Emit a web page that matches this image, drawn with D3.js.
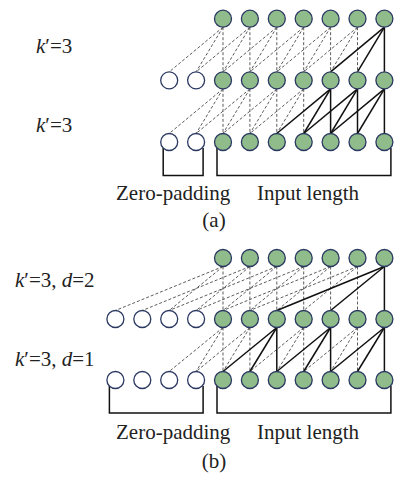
<!DOCTYPE html>
<html>
<head>
<meta charset="utf-8">
<script src="https://cdn.jsdelivr.net/npm/d3@7/dist/d3.min.js"></script>
<style>
  html, body { margin: 0; padding: 0; background: #fff; }
  svg { display: block; }
  text { font-family: "Liberation Serif", "Times New Roman", serif; fill: #222; }
</style>
</head>
<body>
<svg id="chart" width="394" height="482"></svg>
<script>
// ---- diagram data ----
const inputIdx = [0, 1, 2, 3, 4, 5, 6];          // input / hidden / output node positions
const paddingA = [-2, -1];                        // zero-padding nodes, panel (a)
const paddingB = [-4, -3, -2, -1];                // zero-padding nodes, panel (b)
const kernelSize = 3;                             // k' = 3
const dilationsA = [1, 1];                        // bottom->middle, middle->top
const dilationsB = [1, 2];
const layerLabelsA = ["k′=3", "k′=3"];            // top label, bottom label
const layerLabelsB = ["k′=3, d=2", "k′=3, d=1"];
const bottomLabels = ["Zero-padding", "Input length"];
const captions = ["(a)", "(b)"];

// ---- layout ----
const svg = d3.select("#chart");
const x = d3.scaleLinear().domain([0, 6]).range([223, 384.4]);
const r = 8.5;
const fillGreen = "#8fbc8a";
const strokeNavy = "#2b3962";

const panels = [
  { y: d3.scaleLinear().domain([0, 2]).range([142, 18.7]), pad: paddingA, dil: dilationsA,
    labels: layerLabelsA, labelX: 36, labelY: [53, 132], bracketY: 175.5, textY: 200, capY: 227, cap: captions[0] },
  { y: d3.scaleLinear().domain([0, 2]).range([380, 258]), pad: paddingB, dil: dilationsB,
    labels: layerLabelsB, labelX: 15, labelY: [287, 366], bracketY: 413, textY: 439, capY: 468, cap: captions[1] }
];

function addRichText(g, str, xx, yy) {
  const t = g.append("text").attr("x", xx).attr("y", yy).attr("font-size", 21);
  const parts = str.split(/([kd])/).filter(s => s.length);
  parts.forEach(p => {
    const ts = t.append("tspan").text(p);
    if (p === "k" || p === "d") ts.attr("font-style", "italic");
  });
  return t;
}

panels.forEach(P => {
  const g = svg.append("g");
  const top = inputIdx[inputIdx.length - 1];

  // receptive field of the last output
  const activeTop = new Set([top]);
  const activeMid = new Set();
  for (let m = 0; m < kernelSize; m++) activeMid.add(top - m * P.dil[1]);
  const activeSets = [activeMid, activeTop];

  const edges = [];
  [0, 1].forEach(l => {
    const d = P.dil[l];
    inputIdx.forEach(i => {
      for (let m = 0; m < kernelSize; m++) {
        const lo = i - m * d;
        edges.push({ l, up: i, lo, solid: activeSets[l].has(i) });
      }
    });
  });

  const drawEdges = list => g.append("g").selectAll("line").data(list).join("line")
    .attr("x1", e => x(e.up)).attr("y1", e => P.y(e.l + 1) + r)
    .attr("x2", e => x(e.lo)).attr("y2", e => P.y(e.l) - r);

  drawEdges(edges.filter(e => !e.solid))
    .attr("stroke", "#4a4a4a").attr("stroke-width", 0.9).attr("stroke-dasharray", "3,2");
  drawEdges(edges.filter(e => e.solid))
    .attr("stroke", "#111").attr("stroke-width", 1.5);

  // brackets
  const yb = P.y(0);
  const bracket = (x1, x2) => g.append("path")
    .attr("d", `M${x1},${yb + r * 0.7}V${P.bracketY}H${x2}V${yb + r * 0.7}`)
    .attr("fill", "none").attr("stroke", "#111").attr("stroke-width", 1.5);
  bracket(x(P.pad[0]) - 6, x(P.pad[P.pad.length - 1]) + 7);
  bracket(x(inputIdx[0]) - 6, x(top) + 6.5);

  // nodes
  const nodes = [];
  [0, 1, 2].forEach(l => {
    inputIdx.forEach(i => nodes.push({ l, i, pad: false }));
    if (l < 2) P.pad.forEach(i => nodes.push({ l, i, pad: true }));
  });
  g.append("g").selectAll("circle").data(nodes).join("circle")
    .attr("cx", n => x(n.i)).attr("cy", n => P.y(n.l)).attr("r", r)
    .attr("fill", n => n.pad ? "#fff" : fillGreen)
    .attr("stroke", strokeNavy).attr("stroke-width", 1.3);

  // texts
  P.labels.forEach((s, k) => addRichText(g, s, P.labelX, P.labelY[k]));
  g.append("text").attr("x", 116).attr("y", P.textY).attr("font-size", 21).text(bottomLabels[0]);
  g.append("text").attr("x", 257).attr("y", P.textY).attr("font-size", 21).text(bottomLabels[1]);
  g.append("text").attr("x", 214).attr("y", P.capY).attr("font-size", 21)
    .attr("text-anchor", "middle").text(P.cap);
});
</script>
</body>
</html>
